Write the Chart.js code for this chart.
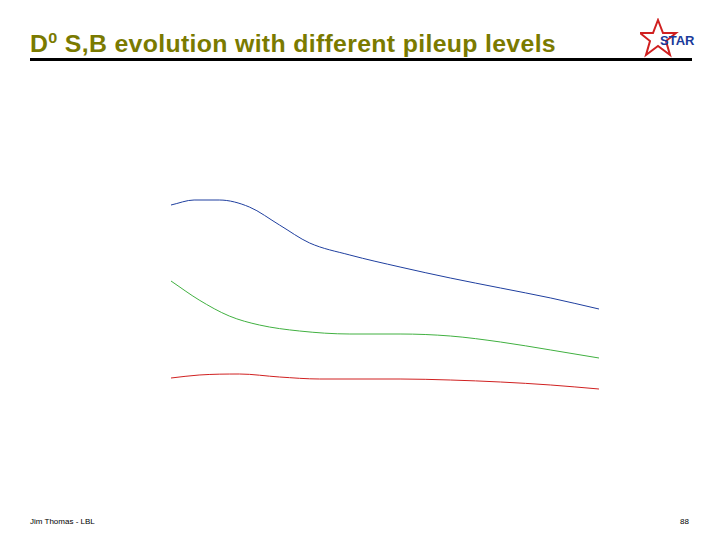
<!DOCTYPE html>
<html><head><meta charset="utf-8">
<script src="https://cdn.jsdelivr.net/npm/chart.js@4"></script>
<style>
body{margin:0;width:720px;height:540px;background:#fff;position:relative;overflow:hidden;font-family:"Liberation Sans",Arial,sans-serif}
#title{position:absolute;left:30px;top:29px;font-size:23px;font-weight:bold;color:#7a7a00;letter-spacing:0.3px;transform:scaleX(1.08);transform-origin:left}
#title sup{font-size:15px}
#rule{position:absolute;left:30px;top:58px;width:662px;height:3px;background:#000}
#star{position:absolute;left:640px;top:18px}
#foot{position:absolute;left:30px;top:517px;font-size:8px;color:#000}
#pg{position:absolute;left:680px;top:517px;font-size:8px}
#wrap{position:absolute;left:171px;top:150px;width:429px;height:300px}
</style></head><body>
<div id="title">D<sup>0</sup> S,B evolution with different pileup levels</div>
<div id="rule"></div>
<svg id="star" width="60" height="40"><polygon points="18,2 23,15 36,15 26,23 30,37 18,28 6,37 10,23 0,15 13,15" fill="none" stroke="#d02020" stroke-width="2"/><text x="20" y="27" font-family="Liberation Sans,Arial" font-weight="bold" font-size="13" fill="#1a3a9a">STAR</text></svg>
<div id="foot">Jim Thomas - LBL</div>
<div id="pg">88</div>
<div id="wrap"><canvas id="c"></canvas></div>
<script>
const xsBlue=[0,23,48,78,108,138,178,228,278,328,378,426];
const blue=[245,250,250,243,225,207,195,183,172,162,152,141];
const xsGreen=[0,28,58,88,128,178,228,278,328,378,426];
const green=[169,150,134,125,119,116,116,114,108,100,92];
const xsRed=[0,28,68,108,148,228,278,328,378,426];
const red=[72,75,76,73,71,71,70,68,65,61];
const pts=(xs,ys)=>xs.map((x,i)=>({x:x,y:ys[i]}));
const ds=(d,c)=>({data:d,borderColor:c,borderWidth:1,pointRadius:0,cubicInterpolationMode:'monotone',fill:false});
new Chart(document.getElementById('c'),{type:'line',
data:{datasets:[ds(pts(xsBlue,blue),'#1f3f9f'),ds(pts(xsGreen,green),'#40b040'),ds(pts(xsRed,red),'#d02020')]},
options:{responsive:true,maintainAspectRatio:false,animation:false,layout:{padding:0},
plugins:{legend:{display:false},tooltip:{enabled:false}},
scales:{x:{type:'linear',min:0,max:427,display:false},y:{min:0,max:300,display:false}}}});
</script></body></html>
